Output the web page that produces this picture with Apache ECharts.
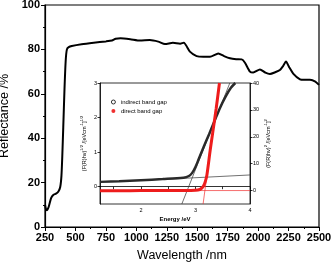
<!DOCTYPE html>
<html>
<head>
<meta charset="utf-8">
<script src="https://cdn.jsdelivr.net/npm/echarts@6/dist/echarts.min.js"></script>
<style>
  html, body { margin: 0; padding: 0; background: #fff; }
  #main { width: 332px; height: 263px; }
</style>
</head>
<body>
<div id="main"></div>
<script>
// main reflectance spectrum
var wavelength = [250, 258, 265, 280, 300, 320, 340, 360, 375, 385, 392, 400, 410, 420, 430, 445, 470, 550, 650, 750, 800, 830, 870, 950, 1030, 1110, 1180, 1235, 1300, 1360, 1390, 1440, 1495, 1550, 1605, 1673, 1720, 1769, 1820, 1865, 1892, 1933, 1960, 2015, 2060, 2097, 2140, 2179, 2205, 2229, 2255, 2290, 2344, 2380, 2426, 2470, 2500];
var reflectance = [10, 8, 7.5, 9, 13, 14.5, 15, 16, 18, 23, 32, 45, 62, 75, 80, 81, 81.5, 82.3, 83, 83.6, 84, 84.8, 85, 84.6, 84, 84.2, 83.5, 82.4, 83, 82.6, 83, 79, 77, 76.7, 76.7, 78.2, 77, 76, 75.6, 75.5, 74, 70, 69.6, 71, 69.5, 68.9, 69.7, 70.7, 72.5, 74.5, 72, 69, 66.5, 66.3, 66.3, 65.5, 64];

// inset: indirect band gap (left axis)
var indEnergy = [1.25, 1.6, 2.0, 2.4, 2.78, 2.88, 2.94, 3.0, 3.06, 3.15, 3.25, 3.35, 3.45, 3.55, 3.65, 3.73];
var indValue = [0.14, 0.16, 0.19, 0.22, 0.26, 0.31, 0.4, 0.57, 0.8, 1.15, 1.52, 1.9, 2.28, 2.6, 2.86, 3.0];

// inset: direct band gap (right axis)
var dirEnergy = [1.25, 1.6, 2.0, 2.4, 2.8, 3.0, 3.08, 3.12, 3.15, 3.18, 3.21, 3.27, 3.32, 3.38, 3.44];
var dirValue = [-0.1, -0.1, 0, 0, 0, 0.1, 0.4, 1.0, 1.8, 3.3, 5.8, 15, 22, 30.5, 40];

// fit lines (end points)
var indBaseFit = [[2.5, 0.22], [4, 0.34]];
var indSlopeFit = [[2.75, -0.5], [3.63, 3.0]];
var dirBaseFit = [[3.0, 0], [4, 0]];
var dirSlopeFit = [[3.14, -5], [3.25, 11.5]];

// tick labels
var insetXLabels = [2, 3, 4];
var insetXTicks = [1.5, 2, 2.5, 3, 3.5, 4];
var insetLeftLabels = [0, 1, 2, 3];
var insetRightLabels = [0, 10, 20, 30, 40];

function pairs(xs, ys) {
  return xs.map(function (x, i) { return [x, ys[i]]; });
}

var font = 'Liberation Sans';
var chart = echarts.init(document.getElementById('main'));

var supRich = {
  n: { fontSize: 5.5, fontFamily: font, color: '#000' },
  s: { fontSize: 4, fontFamily: font, color: '#000', padding: [0, 0, 4, 0] }
};

var option = {
  animation: false,
  textStyle: { fontFamily: font, color: '#000' },
  grid: [
    { left: 45, top: 5, width: 274, height: 222, show: true, borderColor: '#000', borderWidth: 1.2, backgroundColor: 'transparent', containLabel: false, outerBoundsMode: 'none' },
    { left: 100, top: 83, width: 150, height: 121, show: true, borderColor: '#000', borderWidth: 0.8, backgroundColor: '#fff', containLabel: false, outerBoundsMode: 'none' }
  ],
  legend: {
    left: 106, top: 94, orient: 'vertical',
    itemWidth: 5, itemHeight: 4, itemGap: 3,
    textStyle: { fontSize: 6, fontFamily: font, color: '#000' },
    data: [
      { name: 'indirect band gap', icon: 'circle', itemStyle: { color: '#fff', borderColor: '#000', borderWidth: 0.8 } },
      { name: 'direct band gap', icon: 'circle', itemStyle: { color: '#f03030', borderWidth: 0 } }
    ]
  },
  xAxis: [
    {
      type: 'value', gridIndex: 0, min: 250, max: 2500, interval: 250,
      name: 'Wavelength /nm', nameLocation: 'middle', nameGap: 22,
      nameTextStyle: { fontSize: 12.5, fontFamily: font, color: '#000' },
      axisLine: { show: true, lineStyle: { color: '#000', width: 1.2 } },
      axisTick: { show: true, length: 4, lineStyle: { color: '#000' } },
      minorTick: { show: true, splitNumber: 2, length: 2, lineStyle: { color: '#000' } },
      splitLine: { show: false },
      axisLabel: {
        fontSize: 11, fontWeight: 'bold', color: '#000', margin: 5, fontFamily: font,
        formatter: function (v) { return String(v); }
      }
    },
    {
      type: 'value', gridIndex: 1, min: 1.25, max: 4,
      name: 'Energy /eV', nameLocation: 'middle', nameGap: 12,
      nameTextStyle: { fontSize: 6, fontWeight: 'bold', fontFamily: font, color: '#000' },
      axisLine: { show: true, lineStyle: { color: '#000', width: 0.8 } },
      axisTick: { show: true, length: 2.5, customValues: insetXTicks, lineStyle: { color: '#000', width: 0.8 } },
      splitLine: { show: false },
      axisLabel: { fontSize: 5.5, color: '#000', margin: 3, customValues: insetXLabels, fontFamily: font }
    }
  ],
  yAxis: [
    {
      type: 'value', gridIndex: 0, min: 0, max: 100, interval: 20,
      name: 'Reflectance /%', nameLocation: 'middle', nameGap: 31,
      nameTextStyle: { fontSize: 12.5, fontFamily: font, color: '#000' },
      axisLine: { show: true, lineStyle: { color: '#000', width: 1.2 } },
      axisTick: { show: true, length: 4, lineStyle: { color: '#000' } },
      minorTick: { show: true, splitNumber: 2, length: 2, lineStyle: { color: '#000' } },
      splitLine: { show: false },
      axisLabel: { fontSize: 11, fontWeight: 'bold', color: '#000', margin: 5, fontFamily: font }
    },
    {
      type: 'value', gridIndex: 1, min: -0.5, max: 3,
      name: '{n|(F(R)hν)}{s|1/2}{n| /[eVcm}{s|-1}{n|]}{s|1/2}',
      nameLocation: 'middle', nameGap: 12,
      nameTextStyle: { fontFamily: font, color: '#000', rich: supRich },
      axisLine: { show: true, lineStyle: { color: '#000', width: 0.8 } },
      axisTick: { show: true, length: 2.5, customValues: insetLeftLabels, lineStyle: { color: '#000', width: 0.8 } },
      splitLine: { show: false },
      axisLabel: { fontSize: 5.5, color: '#000', margin: 3, customValues: insetLeftLabels, fontFamily: font }
    },
    {
      type: 'value', gridIndex: 1, position: 'right', min: -5, max: 40,
      name: '{n|(F(R)hν)}{s|2}{n| /[eVcm}{s|-1}{n|]}{s|2}',
      nameLocation: 'middle', nameGap: 14, nameRotate: 90,
      nameTextStyle: { fontFamily: font, color: '#000', rich: supRich },
      axisLine: { show: true, lineStyle: { color: '#000', width: 0.8 } },
      axisTick: { show: true, length: 2.5, customValues: insetRightLabels, lineStyle: { color: '#000', width: 0.8 } },
      splitLine: { show: false },
      axisLabel: { fontSize: 5.5, color: '#000', margin: 3, customValues: insetRightLabels, fontFamily: font }
    }
  ],
  series: [
    {
      type: 'line', xAxisIndex: 0, yAxisIndex: 0,
      data: pairs(wavelength, reflectance),
      showSymbol: false, smooth: 0.2,
      lineStyle: { color: '#000', width: 2 }
    },
    {
      type: 'line', xAxisIndex: 1, yAxisIndex: 1, data: indBaseFit,
      showSymbol: false, lineStyle: { color: '#333', width: 0.7 }, z: 1
    },
    {
      type: 'line', xAxisIndex: 1, yAxisIndex: 1, data: indSlopeFit,
      showSymbol: false, lineStyle: { color: '#333', width: 0.7 }, z: 1
    },
    {
      type: 'line', xAxisIndex: 1, yAxisIndex: 2, data: dirBaseFit,
      showSymbol: false, lineStyle: { color: '#f03030', width: 0.7 }, z: 1
    },
    {
      type: 'line', xAxisIndex: 1, yAxisIndex: 2, data: dirSlopeFit,
      showSymbol: false, lineStyle: { color: '#f03030', width: 0.7 }, z: 1
    },
    {
      name: 'indirect band gap', type: 'line', xAxisIndex: 1, yAxisIndex: 1,
      data: pairs(indEnergy, indValue),
      showSymbol: false, smooth: 0.3,
      itemStyle: { color: '#000' },
      lineStyle: { color: '#2a2a2a', width: 2.5 }, z: 3
    },
    {
      name: 'direct band gap', type: 'line', xAxisIndex: 1, yAxisIndex: 2,
      data: pairs(dirEnergy, dirValue),
      showSymbol: false, smooth: 0.3,
      itemStyle: { color: '#f03030' },
      lineStyle: { color: '#ee1c1c', width: 3 }, z: 4
    }
  ]
};

chart.setOption(option);
</script>
</body>
</html>
